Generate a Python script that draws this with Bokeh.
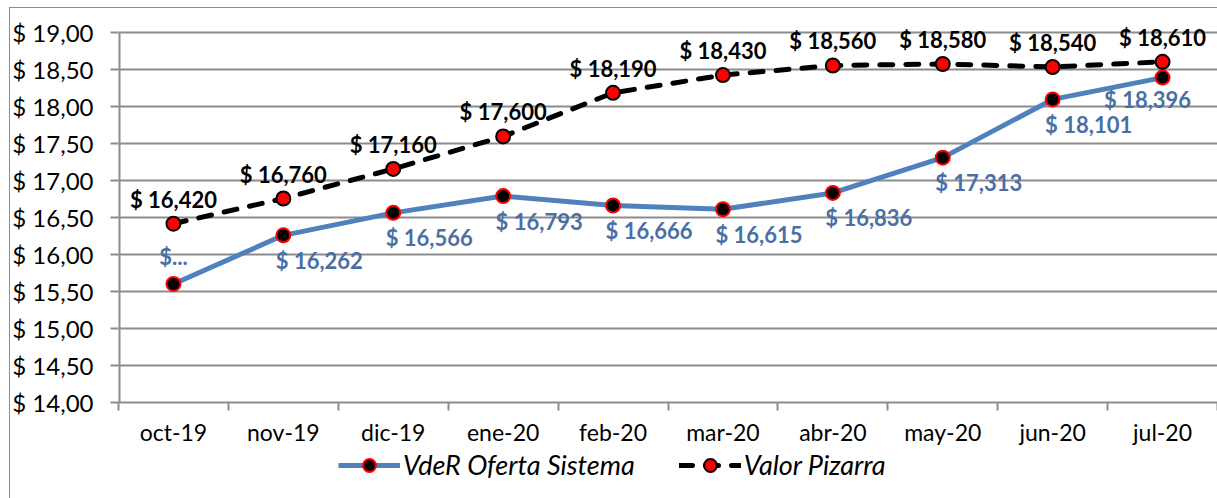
from bokeh.plotting import figure
from bokeh.layouts import column
from bokeh.models import (Range1d, FixedTicker, CustomJSTickFormatter, Legend,
                          LegendItem, ColumnDataSource)
from bokeh.core.properties import value
from bokeh.embed import file_html
from bokeh.resources import INLINE

# ---- data ----
categories = ["oct-19", "nov-19", "dic-19", "ene-20", "feb-20",
              "mar-20", "abr-20", "may-20", "jun-20", "jul-20"]
vder_oferta = [15.604, 16.262, 16.566, 16.793, 16.666,
               16.615, 16.836, 17.313, 18.101, 18.396]
valor_pizarra = [16.420, 16.760, 17.160, 17.600, 18.190,
                 18.430, 18.560, 18.580, 18.540, 18.610]
vder_labels = ["$...", "$ 16,262", "$ 16,566", "$ 16,793", "$ 16,666",
               "$ 16,615", "$ 16,836", "$ 17,313", "$ 18,101", "$ 18,396"]
pizarra_labels = ["$ 16,420", "$ 16,760", "$ 17,160", "$ 17,600", "$ 18,190",
                  "$ 18,430", "$ 18,560", "$ 18,580", "$ 18,540", "$ 18,610"]
y_ticks = [14.0, 14.5, 15.0, 15.5, 16.0, 16.5, 17.0, 17.5, 18.0, 18.5, 19.0]
series_names = ["VdeR Oferta Sistema", "Valor Pizarra"]

FONT = "Lato"
GRID = "#8c8c8c"
BLUE = "#4f81bd"
LABEL_BLUE = "#4a6fa5"

n = len(categories)
xs = [i + 0.5 for i in range(n)]
y_lo, y_hi = y_ticks[0], y_ticks[-1]

# frame extends a little above the top gridline so labels are not clipped
p = figure(width=1217, height=448, x_range=Range1d(0, n), y_range=Range1d(y_lo, y_hi + 0.25),
           output_backend="svg", toolbar_location=None,
           min_border_left=118, min_border_right=0, min_border_top=14,
           min_border_bottom=44)
p.outline_line_color = None
p.background_fill_color = "white"
p.border_fill_color = None

# grid
p.xgrid.grid_line_color = None
p.ygrid.ticker = FixedTicker(ticks=y_ticks)
p.ygrid.grid_line_color = GRID
p.ygrid.grid_line_width = 2

# y axis (its line drawn only between the first and last tick)
p.yaxis.ticker = FixedTicker(ticks=y_ticks)
p.yaxis.formatter = CustomJSTickFormatter(code='return "$ " + tick.toFixed(2).replace(".", ",");')
p.yaxis.axis_line_color = None
p.yaxis.major_tick_line_color = GRID
p.yaxis.major_tick_line_width = 2
p.yaxis.major_tick_out = 8
p.yaxis.major_tick_in = 0
p.yaxis.minor_tick_line_color = None
p.yaxis.major_label_text_font = FONT
p.yaxis.major_label_text_font_size = "24px"
p.yaxis.major_label_text_color = "black"
p.yaxis.major_label_standoff = 17
p.segment(x0=0, y0=y_lo, x1=0, y1=y_hi, line_color=GRID, line_width=4)

# x axis
p.xaxis.ticker = FixedTicker(ticks=xs, minor_ticks=list(range(n + 1)))
p.xaxis.formatter = CustomJSTickFormatter(args=dict(cats=categories),
                                          code="return cats[Math.floor(tick)];")
p.xaxis.axis_line_color = GRID
p.xaxis.axis_line_width = 2
p.xaxis.major_tick_line_color = None
p.xaxis.minor_tick_line_color = GRID
p.xaxis.minor_tick_line_width = 2
p.xaxis.minor_tick_out = 8
p.xaxis.minor_tick_in = 0
p.xaxis.major_label_text_font = FONT
p.xaxis.major_label_text_font_size = "23px"
p.xaxis.major_label_text_color = "black"
p.xaxis.major_label_standoff = 7

# series
blue_line = dict(line_color=BLUE, line_width=5)
black_line = dict(line_color="black", line_width=5, line_dash="13 13", line_cap="round")
blue_mark = dict(size=14, fill_color="black", line_color="red", line_width=2)
black_mark = dict(size=14, fill_color="red", line_color="black", line_width=2)

p.line(xs, vder_oferta, **blue_line)
p.line(xs, valor_pizarra, **black_line)
p.scatter(xs, vder_oferta, **blue_mark)
p.scatter(xs, valor_pizarra, **black_mark)

# labels
lab = dict(text_font=value(FONT), text_font_style="bold", text_font_size="22px")
piz_src = ColumnDataSource(dict(x=xs, y=valor_pizarra, t=pizarra_labels))
p.text(x="x", y="y", text="t", source=piz_src, text_align="center",
       text_baseline="bottom", y_offset=-11, text_color="black", **lab)

v_mid = ColumnDataSource(dict(x=xs[1:-1], y=vder_oferta[1:-1], t=vder_labels[1:-1]))
p.text(x="x", y="y", text="t", source=v_mid, text_align="center",
       text_baseline="middle", x_offset=36, y_offset=25, text_color=LABEL_BLUE, **lab)
v_first = ColumnDataSource(dict(x=xs[:1], y=vder_oferta[:1], t=vder_labels[:1]))
p.text(x="x", y="y", text="t", source=v_first, text_align="center",
       text_baseline="middle", y_offset=-27, text_color=LABEL_BLUE, **lab)
v_last = ColumnDataSource(dict(x=xs[-1:], y=vder_oferta[-1:], t=vder_labels[-1:]))
p.text(x="x", y="y", text="t", source=v_last, text_align="center",
       text_baseline="middle", x_offset=-15, y_offset=22, text_color=LABEL_BLUE, **lab)

# ---- legend strip (separate figure below the chart) ----
lf = figure(width=1217, height=50, x_range=Range1d(0, 1), y_range=Range1d(0, 1),
            output_backend="svg", toolbar_location=None, min_border=0)
lf.axis.visible = False
lf.grid.visible = False
lf.outline_line_color = None
lf.background_fill_color = None
lf.border_fill_color = None
# legend proxies: placed outside the visible range of the legend strip
r1 = [lf.line([2, 3], [2, 3], **blue_line), lf.scatter([2], [2], **blue_mark)]
r2 = [lf.line([2, 3], [2, 3], **black_line), lf.scatter([2], [2], **black_mark)]
legend = Legend(items=[LegendItem(label=series_names[0], renderers=r1),
                       LegendItem(label=series_names[1], renderers=r2)],
                orientation="horizontal", location=(220, 17))
legend.label_text_font = FONT
legend.label_text_font_style = "italic"
legend.label_text_font_size = "27px"
legend.label_text_color = "black"
legend.label_standoff = 3
legend.glyph_width = 62
legend.glyph_height = 32
legend.spacing = 44
legend.padding = 0
legend.margin = 0
legend.border_line_color = None
legend.background_fill_alpha = 0
lf.add_layout(legend, "center")

layout = column(p, lf, spacing=0, styles={
    "background-color": "white",
    "background-image": "linear-gradient(#8c8c8c, #8c8c8c), linear-gradient(#8c8c8c, #8c8c8c)",
    "background-size": "1px 100%, 100% 1px",
    "background-position": "9px 7px, 9px 7px",
    "background-repeat": "no-repeat",
})

open("out.html", "w").write(file_html(layout, INLINE))
